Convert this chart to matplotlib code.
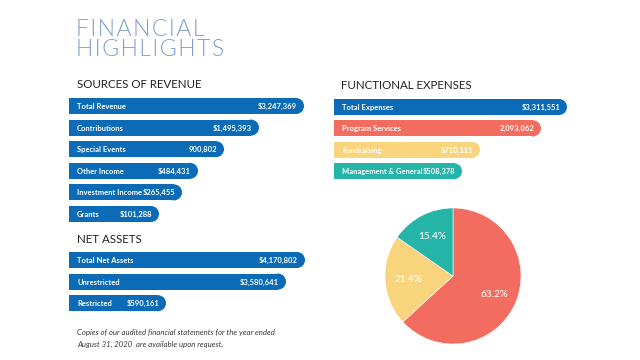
import matplotlib
matplotlib.use("Agg")
import matplotlib.pyplot as plt
from matplotlib.patches import Circle

# ---------------- data ----------------
title_lines = ["FINANCIAL", "HIGHLIGHTS"]

revenue_title = "SOURCES OF REVENUE"
revenue_labels = ["Total Revenue", "Contributions", "Special Events",
                  "Other Income", "Investment Income", "Grants"]
revenue_values = [3247369, 1495393, 900802, 484431, 265455, 101288]
revenue_texts = ["$3,247,369", "$1,495,393", "900,802",
                 "$484,431", "$265,455", "$101,288"]
# displayed bar lengths (design lengths, not to scale)
revenue_bar_len = [235, 190, 155, 129, 113, 90]

net_title = "NET ASSETS"
net_labels = ["Total Net Assets", "Unrestricted", "Restricted"]
net_values = [4170802, 3580641, 590161]
net_texts = ["$4,170,802", "$3,580,641", "$590,161"]
net_bar_len = [236, 217, 97]

exp_title = "FUNCTIONAL EXPENSES"
exp_labels = ["Total Expenses", "Program Services", "Fundraising",
              "Management & General"]
exp_values = [3311551, 2093062, 710111, 508378]
exp_texts = ["$3,311,551", "2,093,062", "$710,111", "$508,378"]
exp_bar_len = [233, 207, 146, 128]

pie_values = exp_values[1:]

footnote = ["Copies of our audited financial statements for the year ended",
            "August 31, 2020  are available upon request."]

# ---------------- styles ----------------
BLUE = "#0B6BB7"
RED = "#F26C5F"
YELLOW = "#F8D47C"
TEAL = "#25B4A8"
TITLE_C = "#7F9CCD"
HEAD_C = "#222222"
FONT = ["Lato", "DejaVu Sans"]

W, H = 640, 360
fig = plt.figure(figsize=(6.4, 3.6), dpi=100, facecolor="white")
ax = fig.add_axes([0, 0, 1, 1])
ax.set_xlim(0, W)
ax.set_ylim(H, 0)
ax.axis("off")

# letter-spaced two-line title as a single text object
HAIR = "\u200a"
title_str = "\n".join(HAIR.join(line) for line in title_lines)
ax.text(76, 19.5, title_str, fontsize=16.6, color=TITLE_C, family=FONT,
        fontweight=300, va="top", ha="left", linespacing=0.9)


def header(x, y, s):
    ax.text(x, y, s, fontsize=8.3, color=HEAD_C, family=FONT,
            fontweight=400, va="baseline", ha="left")


def bars(x0, y_centers, lengths, labels, texts, colors, h=16):
    r = h / 2
    for yc, L, lab, txt, c in zip(y_centers, lengths, labels, texts, colors):
        ax.barh(yc, L - r, left=x0, height=h, color=c, linewidth=0)
        ax.add_patch(Circle((x0 + L - r, yc), r, color=c, linewidth=0))
        ax.text(x0 + 8, yc + 0.5, lab, fontsize=5.5, fontweight=700,
                color="white", family=FONT, va="center", ha="left")
        ax.text(x0 + L - 7, yc + 0.5, txt, fontsize=5.5, fontweight=700,
                color="white", family=FONT, va="center", ha="right")


header(77, 88, revenue_title)
rev_y = [106 + 21.6 * i for i in range(len(revenue_labels))]
bars(69, rev_y, revenue_bar_len, revenue_labels, revenue_texts,
     [BLUE] * len(revenue_labels))

header(77, 243, net_title)
net_y = [260 + 21.6 * i for i in range(len(net_labels))]
bars(69, net_y, net_bar_len, net_labels, net_texts, [BLUE] * len(net_labels))

header(341, 89, exp_title)
exp_y = [107 + 21.4 * i for i in range(len(exp_labels))]
bars(334, exp_y, exp_bar_len, exp_labels, exp_texts, [BLUE, RED, YELLOW, TEAL])

for i, line in enumerate(footnote):
    ax.text(77, 335 + 11.5 * i, line, fontsize=5.6, style="italic",
            color="#3a3a3a", family=FONT, va="baseline", ha="left")

# pie
cx, cy, rad = 453, 276, 68
pax = fig.add_axes([(cx - rad) / W, (H - cy - rad) / H, 2 * rad / W, 2 * rad / H])
wedges, _, autotexts = pax.pie(
    pie_values, colors=[RED, YELLOW, TEAL], startangle=90, counterclock=False,
    autopct="%1.1f%%", pctdistance=0.66, radius=1,
    wedgeprops=dict(edgecolor="white", linewidth=0.4),
    textprops=dict(color="white", fontsize=7.2, fontweight=500, family=FONT))
pax.set_xlim(-1.0, 1.0)
pax.set_ylim(-1.0, 1.0)
pax.set_aspect("equal")
pax.axis("off")

fig.savefig("out.png", dpi=100, facecolor="white")
